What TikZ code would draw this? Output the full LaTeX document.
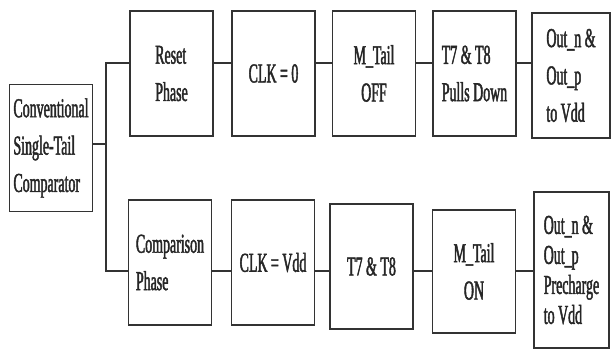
\documentclass[tikz,border=0pt]{standalone}
\usepackage{fontspec}
\newfontfamily\narrowserif[FakeStretch=0.51,FakeBold=1.6]{Liberation Serif}
\usetikzlibrary{positioning}

\begin{document}
\begin{tikzpicture}[x=0.75pt, y=-0.75pt,
  box/.style={draw=black!80, line width=1.1pt, align=left, inner sep=0pt,
              text=black!85, minimum width=62.5pt, minimum height=94pt,
              font=\narrowserif\fontsize{20.5}{28}\selectfont},
  midbox/.style={box, align=center},
  ln/.style={draw=black!80, line width=1.1pt}
]
\useasboundingbox (0,0) rectangle (612,349);

% --- source block and branch points --------------------------------------
\node[box, minimum height=95pt] (conv) at (51,148) {Conventional\\Single-Tail\\Comparator};
\coordinate (trunk) at (106,0);
\coordinate (rowA)  at (0,63);
\coordinate (rowB)  at (0,271);
\coordinate (rowC)  at (0,144);

% --- reset phase (upper) -------------------------------------------------
\node[box]    (reset) at (171.5,73.5) {Reset\\Phase};
\node[midbox] (clkz)  at (273.5,73.5) {CLK = 0};
\node[midbox] (moff)  at (374,73.5)   {M\_Tail\\OFF};
\node[box]    (pull)  at (474.5,73.5) {T7 \& T8\\Pulls Down};
\node[box, minimum width=58.5pt] (outa) at (571,75.5) {Out\_n \&\\Out\_p\\to Vdd};

% --- comparison phase (lower) --------------------------------------------
\node[box]    (comp) at (170,262.5)   {Comparison\\Phase};
\node[midbox] (clkv) at (273,262.5)   {CLK = Vdd};
\node[midbox] (tse)  at (371.5,266.5) {T7 \& T8};
\node[midbox, minimum height=92pt] (mon) at (474,271.5) {M\_Tail\\ON};
\node[box, minimum width=56pt, minimum height=117pt,
      font=\narrowserif\fontsize{20.5}{22.5}\selectfont] (outb) at (571.5,270)
      {Out\_n \&\\Out\_p\\Precharge\\to Vdd};

\draw[ln] (conv.east |- rowC) -- (trunk |- rowC);
\draw[ln] (reset.west |- rowA) -| (trunk |- rowB) -- (comp.west |- rowB);

\draw[ln] (reset.east |- rowA) -- (clkz.west |- rowA);
\draw[ln] (clkz.east |- rowA)  -- (moff.west |- rowA);
\draw[ln] (moff.east |- rowA)  -- (pull.west |- rowA);
\draw[ln] (pull.east |- rowA)  -- (outa.west |- rowA);

\draw[ln] (comp.east |- rowB) -- (clkv.west |- rowB);
\draw[ln] (clkv.east |- rowB) -- (tse.west |- rowB);
\draw[ln] (tse.east |- rowB)  -- (mon.west |- rowB);
\draw[ln] (mon.east |- rowB)  -- (outb.west |- rowB);
\end{tikzpicture}
\end{document}
